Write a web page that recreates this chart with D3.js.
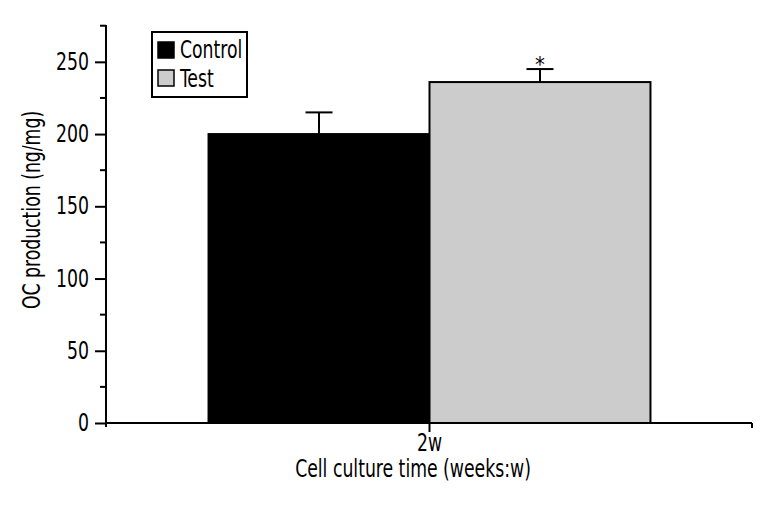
<!DOCTYPE html>
<html>
<head>
<meta charset="utf-8">
<script src="https://cdn.jsdelivr.net/npm/d3@7"></script>
<style>
  html, body { margin: 0; padding: 0; background: #fff; }
  svg { display: block; }
  text { font-family: "DejaVu Sans Condensed", "DejaVu Sans", sans-serif; font-stretch: condensed; fill: #000; }
</style>
</head>
<body>
<svg id="chart" width="771" height="514"></svg>
<script>
const categories = ["2w"];
const seriesNames = ["Control", "Test"];
const seriesColors = ["#000000", "#cccccc"];
const controlValues = [200];
const controlErrors = [15];
const testValues = [236];
const testErrors = [9];
const significance = ["", "*"];
const yTicks = [0, 50, 100, 150, 200, 250];
const yMinorTicks = [25, 75, 125, 175, 225, 275];
const yTitle = "OC production (ng/mg)";
const xTitle = "Cell culture time (weeks:w)";

const FS = 24;      // font size
const SX = 0.8;     // horizontal condensing

const svg = d3.select("#chart");
const margin = { left: 106, right: 18, top: 25, bottom: 91 };
const W = 771, H = 514;
const plotW = W - margin.left - margin.right;
const plotH = H - margin.top - margin.bottom;

const y = d3.scaleLinear().domain([0, 275.5]).range([plotH, 0]);
const x0 = d3.scaleBand().domain(categories).range([0, plotW]).paddingInner(0).paddingOuter(0.232);
const x1 = d3.scaleBand().domain(seriesNames).range([0, x0.bandwidth()]).padding(0);

const g = svg.append("g").attr("transform", `translate(${margin.left},${margin.top})`);

function ctext(parent, x, yy, str, anchor, rot) {
  return parent.append("text")
    .attr("transform", `translate(${x},${yy})${rot ? ` rotate(${rot})` : ""} scale(${SX},1)`)
    .attr("text-anchor", anchor || "start")
    .style("font-size", FS + "px")
    .text(str);
}

const data = [];
categories.forEach((c, i) => {
  data.push({ cat: c, s: "Control", v: controlValues[i], e: controlErrors[i], sig: significance[0], color: seriesColors[0] });
  data.push({ cat: c, s: "Test", v: testValues[i], e: testErrors[i], sig: significance[1], color: seriesColors[1] });
});

g.selectAll("rect.bar").data(data).enter().append("rect")
  .attr("class", "bar")
  .attr("x", d => x0(d.cat) + x1(d.s))
  .attr("y", d => y(d.v))
  .attr("width", x1.bandwidth())
  .attr("height", d => y(0) - y(d.v))
  .attr("fill", d => d.color)
  .attr("stroke", "#000")
  .attr("stroke-width", 2);

const capW = 27;
data.forEach(d => {
  const cx = x0(d.cat) + x1(d.s) + x1.bandwidth() / 2;
  g.append("line").attr("x1", cx).attr("x2", cx).attr("y1", y(d.v)).attr("y2", y(d.v + d.e))
    .attr("stroke", "#000").attr("stroke-width", 2);
  g.append("line").attr("x1", cx - capW / 2).attr("x2", cx + capW / 2).attr("y1", y(d.v + d.e)).attr("y2", y(d.v + d.e))
    .attr("stroke", "#000").attr("stroke-width", 2);
  if (d.sig) {
    g.append("text").attr("x", cx).attr("y", y(d.v + d.e) + 3).attr("text-anchor", "middle")
      .style("font-size", "22px").text(d.sig);
  }
});

// y axis
const yAxis = d3.axisLeft(y).tickValues(yTicks).tickSize(11).tickPadding(6).tickSizeOuter(0);
const yg = g.append("g").call(yAxis);
yg.select(".domain").remove();
yg.selectAll(".tick line").attr("stroke-width", 2);
yg.selectAll(".tick text")
  .style("font-size", FS + "px").style("font-family", null)
  .attr("x", function () { return +d3.select(this).attr("x") / SX; })
  .attr("transform", `scale(${SX},1)`);
g.append("line").attr("x1", 0).attr("x2", 0).attr("y1", y(275.5)).attr("y2", y(0) + 4).attr("stroke", "#000").attr("stroke-width", 2);
g.selectAll("line.minor").data(yMinorTicks).enter().append("line").attr("class", "minor")
  .attr("x1", -6).attr("x2", 0).attr("y1", d => y(d)).attr("y2", d => y(d))
  .attr("stroke", "#000").attr("stroke-width", 2);

// x axis
g.append("line").attr("x1", 0).attr("x2", plotW - 1).attr("y1", y(0)).attr("y2", y(0)).attr("stroke", "#000").attr("stroke-width", 2);
g.append("line").attr("x1", plotW - 1).attr("x2", plotW - 1).attr("y1", y(0)).attr("y2", y(0) + 5).attr("stroke", "#000").attr("stroke-width", 2);
const xg = g.append("g").attr("transform", `translate(0,${y(0)})`)
  .call(d3.axisBottom(x0).tickSize(9).tickPadding(2).tickSizeOuter(0));
xg.select(".domain").remove();
xg.selectAll(".tick line").attr("stroke-width", 2);
xg.selectAll(".tick text")
  .style("font-size", FS + "px").style("font-family", null)
  .attr("transform", `scale(${SX},1)`);

// titles
ctext(svg, 40, 210, yTitle, "middle", -90);
ctext(svg, 413, 477, xTitle, "middle");

// legend
const lg = svg.append("g").attr("transform", "translate(152,32)");
lg.append("rect").attr("x", 0).attr("y", 0).attr("width", 95).attr("height", 65)
  .attr("fill", "#fff").attr("stroke", "#000").attr("stroke-width", 2);
seriesNames.forEach((s, i) => {
  lg.append("rect").attr("x", 6).attr("y", 10 + i * 28).attr("width", 16).attr("height", 16)
    .attr("fill", seriesColors[i]).attr("stroke", "#000").attr("stroke-width", 1.5);
  ctext(lg, 28, 26 + i * 29, s, "start");
});
</script>
</body>
</html>
